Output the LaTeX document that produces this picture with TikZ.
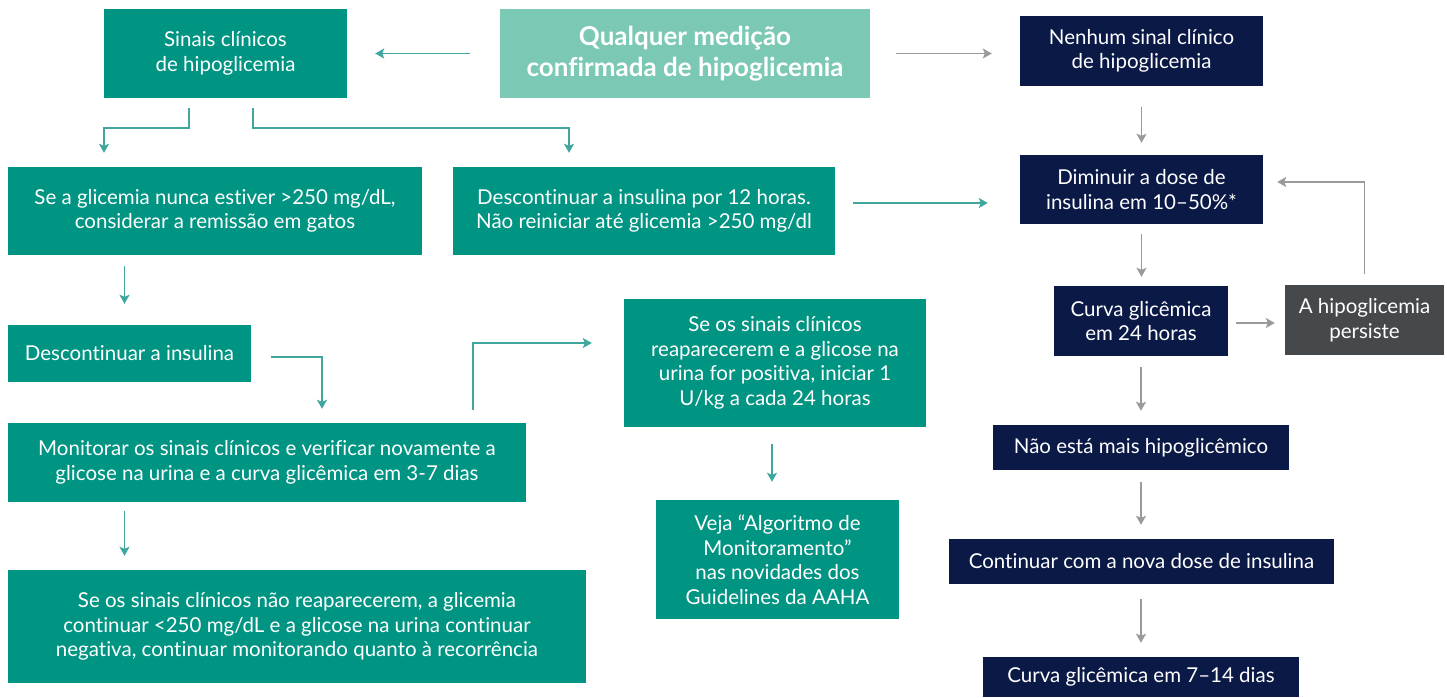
\documentclass[tikz,border=0pt]{standalone}
\usepackage{fontspec}
\setmainfont{Lato}[Ligatures={NoCommon}]
\usetikzlibrary{arrows.meta,calc}
\definecolor{tealbox}{HTML}{009482}
\definecolor{lighttealbox}{HTML}{7BC9B5}
\definecolor{navybox}{HTML}{0B1946}
\definecolor{graybox}{HTML}{45494B}
\definecolor{tealline}{HTML}{3FA79E}
\definecolor{grayline}{HTML}{9A9A9A}
\tikzset{
  box/.style={rectangle, inner sep=0pt, align=center, text=white,
    font=\fontsize{20.5}{24.5}\selectfont},
  tbox/.style={box, fill=tealbox},
  lbox/.style={box, fill=lighttealbox, font=\fontsize{26}{31}\selectfont\bfseries},
  nbox/.style={box, fill=navybox},
  gbox/.style={box, fill=graybox},
  arrT/.style={draw=tealline, line width=1.6pt, -{Stealth[length=9pt,width=10pt,inset=2pt]}},
  arrG/.style={draw=grayline, line width=1.6pt, -{Stealth[length=9pt,width=10pt,inset=2pt]}},
}
\begin{document}
\begin{tikzpicture}[x=1pt,y=-1pt]
\useasboundingbox (0,0) rectangle (1447,697);
% nodes
\node[tbox, minimum width=243pt, minimum height=89pt] (sinais) at (225.5,53.5) {Sinais clínicos\\de hipoglicemia};
\node[lbox, minimum width=370pt, minimum height=89pt] (qualq) at (685,53.5) {Qualquer medição\\confirmada de hipoglicemia};
\node[nbox, minimum width=243pt, minimum height=70pt] (nenhum) at (1141.5,51) {Nenhum sinal clínico\\de hipoglicemia};
\node[tbox, minimum width=414pt, minimum height=88pt] (seglic) at (215,211) {Se a glicemia nunca estiver >250 mg/dL,\\considerar a remissão em gatos};
\node[tbox, minimum width=382pt, minimum height=88pt] (desc12) at (644,211) {Descontinuar a insulina por 12 horas.\\Não reiniciar até glicemia >250 mg/dl};
\node[nbox, minimum width=243pt, minimum height=69pt] (dimin) at (1141.5,189.5) {Diminuir a dose de\\insulina em 10–50\%*};
\node[tbox, minimum width=243pt, minimum height=57pt] (descins) at (129.5,353.5) {Descontinuar a insulina};
\node[tbox, minimum width=302pt, minimum height=128pt] (reap) at (775,363) {Se os sinais clínicos\\reaparecerem e a glicose na\\urina for positiva, iniciar 1\\U/kg a cada 24 horas};
\node[nbox, minimum width=174pt, minimum height=70pt] (curva24) at (1141,321) {Curva glicêmica\\em 24 horas};
\node[gbox, minimum width=159pt, minimum height=70pt] (persist) at (1364.5,320) {A hipoglicemia\\persiste};
\node[tbox, minimum width=518pt, minimum height=79pt] (monit) at (267,462.5) {Monitorar os sinais clínicos e verificar novamente a\\glicose na urina e a curva glicêmica em 3-7 dias};
\node[nbox, minimum width=296pt, minimum height=45pt] (naoesta) at (1141,447.5) {Não está mais hipoglicêmico};
\node[tbox, minimum width=243pt, minimum height=119pt] (veja) at (777.5,559.5) {Veja “Algoritmo de\\Monitoramento”\\nas novidades dos\\Guidelines da AAHA};
\node[tbox, minimum width=578pt, minimum height=113pt] (senao) at (297,626.5) {Se os sinais clínicos não reaparecerem, a glicemia\\continuar <250 mg/dL e a glicose na urina continuar\\negativa, continuar monitorando quanto à recorrência};
\node[nbox, minimum width=385pt, minimum height=45pt] (contin) at (1141.5,561.5) {Continuar com a nova dose de insulina};
\node[nbox, minimum width=316pt, minimum height=40pt] (curva714) at (1141,677) {Curva glicêmica em 7–14 dias};
% connectors
\draw[arrT] ($(qualq.west)+(-30,0)$) -- ($(sinais.east)+(28,0)$);
\draw[arrG] ($(qualq.east)+(26,0)$) -- ($(qualq.east -| nenhum.west)+(-28,0)$);
\draw[arrT] ($(sinais.south)+(-36.5,10)$) -- ++(0,20) -| ($(seglic.north)+(-111,-14)$);
\draw[arrT] ($(sinais.south)+(27.5,10)$) -- ++(0,20) -| ($(desc12.north)+(-75,-14)$);
\draw[arrT] ($(desc12.east)+(18,-8)$) -- ($(desc12.east -| dimin.west)+(-32,-8)$);
\draw[arrG] ($(nenhum.south)+(0,21)$) -- ($(dimin.north)+(0,-12)$);
\draw[arrG] ($(dimin.south)+(0,10)$) -- ($(dimin.south |- curva24.north)+(0,-9)$);
\draw[arrG] ($(curva24.east)+(8,2)$) -- ($(curva24.east -| persist.west)+(-10,2)$);
\draw[arrG] ($(persist.north)+(0,-11)$) |- ($(dimin.east)+(14,-7.5)$);
\draw[arrG] ($(curva24.south)+(0,11)$) -- ($(naoesta.north)+(0,-14)$);
\draw[arrG] ($(naoesta.south)+(0,12)$) -- ($(naoesta.south |- contin.north)+(0,-14)$);
\draw[arrG] ($(curva714.north |- contin.south)+(0,15)$) -- ($(curva714.north)+(0,-14)$);
\draw[arrT] ($(seglic.south -| descins.north)+(-5,11)$) -- ($(descins.north)+(-5,-21)$);
\draw[arrT] ($(descins.east)+(20,3.5)$) -| ($(monit.north)+(55,-14)$);
\draw[arrT] ($(monit.north)+(206,-13)$) |- ($(reap.west)+(-32,-20)$);
\draw[arrT] ($(reap.south)+(-3,17)$) -- ($(veja.north)+(-5.5,-18)$);
\draw[arrT] ($(monit.south)+(-142.5,9)$) -- ($(senao.north)+(-172.5,-14)$);
\end{tikzpicture}
\end{document}
